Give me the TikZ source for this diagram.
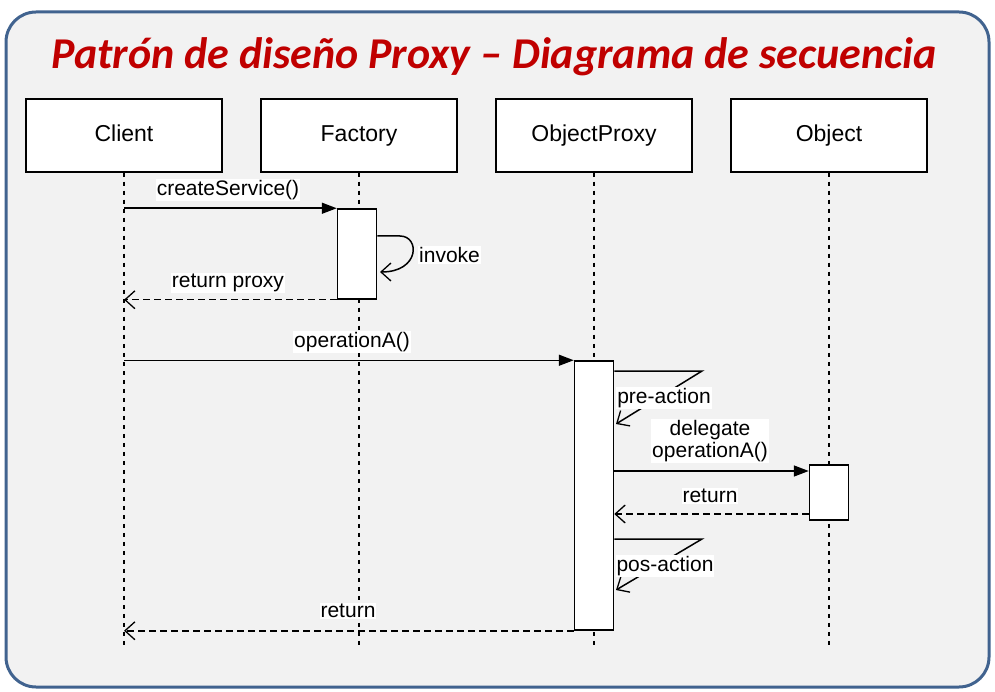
\documentclass[tikz,border=0pt]{standalone}
\usepackage{fontspec}
\setmainfont{Liberation Sans}
\newfontfamily\titlefont{Carlito}
\usetikzlibrary{arrows.meta}
\definecolor{framecol}{RGB}{65,99,143}
\definecolor{bggray}{RGB}{242,242,242}
\definecolor{titlered}{RGB}{192,0,0}
\tikzset{
  head/.style={draw, fill=white, line width=1.5pt, minimum width=196pt, minimum height=73pt, text height=17pt, text depth=5pt, font=\fontsize{23}{26}\selectfont},
  actbox/.style={draw, fill=white, line width=1.5pt, minimum width=39pt},
  lifeline/.style={line width=1.5pt, dash pattern=on 4pt off 5pt},
  msg/.style={line width=1.5pt, -{Triangle[length=15pt,width=11pt]}},
  ret/.style={line width=1.5pt, dash pattern=on 7pt off 4pt, -{Straight Barb[length=10pt,width=18pt,line width=1.3pt]}},
  self/.style={line width=1.5pt, -{Straight Barb[length=10pt,width=18pt,line width=1.3pt]}},
  lbl/.style={fill=white, inner sep=1pt, font=\fontsize{21}{24}\selectfont},
}
\begin{document}
\begin{tikzpicture}[x=1pt, y=-1pt]
\useasboundingbox (0,0) rectangle (995,692);
\draw[framecol, line width=3pt, fill=bggray, rounded corners=30pt] (6,12) rectangle (989,687);
\node[anchor=base, text=titlered, font=\titlefont\bfseries\itshape\fontsize{44}{48}\selectfont] (title) at (494,69) {Patrón de diseño Proxy – Diagrama de secuencia};
% lifeline heads
\node[head] (client) at (124,135.5) {Client};
\node[head] (factory) at (359,135.5) {Factory};
\node[head] (proxy) at (594,135.5) {ObjectProxy};
\node[head] (object) at (829,135.5) {Object};
\foreach \n in {client,factory,proxy,object}
  \draw[lifeline] (\n.south) -- ++(0,476);
% activations
\node[actbox, minimum height=90pt] (actf) at (357,254) {};
\node[actbox, minimum height=269pt] (actp) at (594,495.5) {};
\node[actbox, minimum height=55pt] (acto) at (829,492.5) {};
% createService
\draw[msg] (client.south |- actf.north west) -- (actf.north west);
\node[lbl] (l1) at (228,190) {createService()};
% invoke
\draw[self] (actf.east |- 0,236) -- (400,236) .. controls (420,236) and (420,272) .. (380,272);
\node[lbl, anchor=west] (l2) at (418,255) {invoke};
% return proxy
\draw[ret] (actf.south west) -- (client.south |- actf.south west);
\node[lbl] (l3) at (228,283) {return proxy};
% operationA
\draw[msg] (client.south |- actp.north west) -- (actp.north west);
\node[lbl] (l4) at (352,342) {operationA()};
% pre-action
\draw[self] (actp.east |- 0,371) -- (702,371) -- (616,424);
\node[lbl] (l5) at (664,398) {pre-action};
% delegate
\draw[msg] (actp.east |- 0,471) -- (acto.west |- 0,471);
\node[lbl, align=center, font=\fontsize{21}{22}\selectfont] (l6) at (710,441) {delegate\\operationA()};
% return from object
\draw[ret] (acto.west |- 0,514) -- (actp.east |- 0,514);
\node[lbl] (l7) at (710,496) {return};
% pos-action
\draw[self] (actp.east |- 0,539) -- (702,539) -- (616,590);
\node[lbl] (l8) at (665,566) {pos-action};
% return to client
\draw[ret] (actp.south west) -- (client.south |- actp.south west);
\node[lbl] (l9) at (348,611) {return};
\end{tikzpicture}
\end{document}
